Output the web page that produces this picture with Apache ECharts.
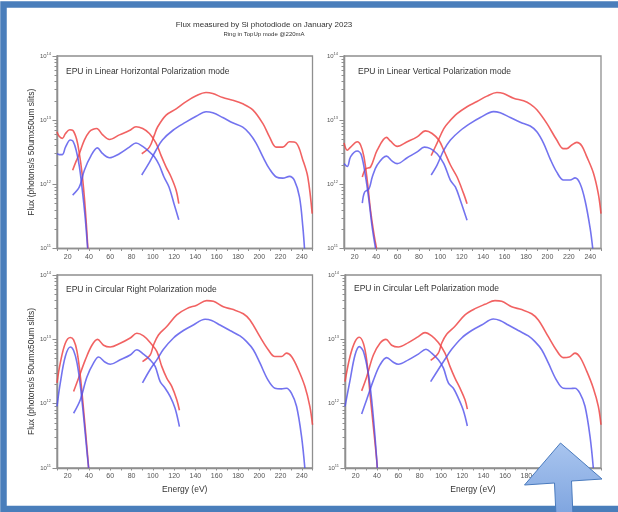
<!DOCTYPE html>
<html>
<head>
<meta charset="utf-8">
<title>Flux measured by Si photodiode on January 2023</title>
<script src="https://cdn.jsdelivr.net/npm/echarts@6/dist/echarts.min.js"></script>
<style>
  html, body { margin: 0; padding: 0; background: #fff; }
  #main { width: 618px; height: 512px; }
</style>
</head>
<body>
<div id="main"></div>
<script>
// text
var mainTitle = 'Flux measured by Si photodiode on January 2023';
var subTitle = 'Ring in TopUp mode @220mA';
var panelTitles = [
  'EPU in Linear Horizontal Polarization mode',
  'EPU in Linear Vertical Polarization mode',
  'EPU in Circular Right Polarization mode',
  'EPU in Circular Left Polarization mode'
];
var yName = 'Flux (photons/s 50umx50um slits)';
var xName = 'Energy (eV)';

// tick values
var xLabels = [20, 40, 60, 80, 100, 120, 140, 160, 180, 200, 220, 240];
var xTicks = [10, 20, 30, 40, 50, 60, 70, 80, 90, 100, 110, 120, 130, 140, 150, 160, 170, 180, 190, 200, 210, 220, 230, 240, 250];
var yDecades = [1e11, 1e12, 1e13, 1e14];

// [energy eV, flux photons/s] - red = upper curve, blue = lower curve
// Linear Horizontal
var lhRed1 = [[10, 6.6e12], [12, 5.6e12], [15, 5.2e12], [18, 6.2e12], [22, 7.1e12], [25, 6.9e12], [28.5, 5.0e12], [31, 3.0e12], [33.5, 1.5e12], [35.7, 6.3e11], [37.5, 2.5e11], [39, 1.0e11]];
var lhBlue1 = [[10, 3.0e12], [12, 2.9e12], [15, 2.9e12], [18, 3.8e12], [22.5, 4.9e12], [25, 4.7e12], [28, 3.4e12], [31, 1.9e12], [34, 7.5e11], [36.5, 3.0e11], [38.8, 1.0e11]];
var lhRed2 = [[24.7, 1.66e12], [28, 2.3e12], [31, 3.0e12], [35.7, 4.9e12], [40.4, 6.6e12], [44, 7.2e12], [47.3, 7.4e12], [52.9, 5.9e12], [59.2, 5.0e12], [68.6, 5.9e12], [78, 6.9e12], [84.2, 7.9e12], [90.5, 7.4e12], [96.8, 6.2e12], [103, 4.4e12], [107.8, 2.8e12], [112.5, 1.86e12], [117.2, 1.3e12], [121.9, 8.1e11], [124.4, 5.0e11]];
var lhBlue2 = [[24.7, 6.8e11], [31, 9.1e11], [35.7, 1.66e12], [42, 2.8e12], [47.9, 3.7e12], [52.9, 3.0e12], [59.2, 2.6e12], [68.6, 3.0e12], [78, 3.8e12], [84.2, 4.4e12], [90.5, 3.9e12], [96.8, 3.2e12], [101.5, 2.7e12], [106, 2.0e12], [110.5, 1.3e12], [115.2, 9.1e11], [119.9, 5.0e11], [124.4, 2.8e11]];
var lhRed3 = [[89.6, 3.0e12], [96.8, 3.8e12], [101.5, 5.9e12], [104.6, 7.9e12], [112.5, 1.2e13], [121.9, 1.5e13], [131.3, 1.95e13], [140.7, 2.4e13], [150, 2.7e13], [156.3, 2.6e13], [165.7, 2.25e13], [175.1, 2.05e13], [184.5, 1.8e13], [193.9, 1.45e13], [203.3, 8.9e12], [209.6, 5.5e12], [215.9, 3.8e12], [222.1, 3.8e12], [228.4, 4.6e12], [234.7, 4.4e12], [240.9, 2.4e12], [245.6, 1.3e12], [249.7, 3.5e11]];
var lhBlue3 = [[89.6, 1.4e12], [96.8, 2.2e12], [103, 3.4e12], [109, 4.9e12], [118.7, 6.9e12], [131, 9.3e12], [140.7, 1.15e13], [150, 1.35e13], [156.3, 1.3e13], [165.7, 1.1e13], [175, 9.1e12], [184.5, 7.8e12], [190.8, 6.2e12], [197, 4.4e12], [203.3, 2.7e12], [209.6, 1.74e12], [216, 1.3e12], [222.1, 1.25e12], [228.4, 1.33e12], [233, 1.15e12], [237.8, 6.3e11], [241, 2.1e11], [242.5, 1.0e11]];

// Linear Vertical
var lvRed1 = [[10, 4.4e12], [13.1, 3.4e12], [16.2, 3.8e12], [22.4, 4.6e12], [25.5, 4.1e12], [28.6, 2.7e12], [31.7, 1.15e12], [34.8, 3.9e11], [37.9, 1.7e11], [40.4, 1.0e11]];
var lvBlue1 = [[10, 2.1e12], [13.1, 1.9e12], [16.2, 2.7e12], [22.4, 3.3e12], [26.1, 2.9e12], [30.2, 1.3e12], [33.3, 5.6e11], [36.4, 2.1e11], [39.5, 1.0e11]];
var lvRed2 = [[27.1, 1.3e12], [30.2, 1.74e12], [34.8, 1.86e12], [41, 3.4e12], [49.7, 5.4e12], [53.5, 4.7e12], [59.7, 3.9e12], [69, 4.6e12], [78.3, 5.5e12], [86.1, 6.8e12], [92.3, 6.2e12], [98.5, 4.9e12], [103.2, 3.4e12], [109.4, 2.0e12], [115.6, 1.3e12], [121.8, 7.1e11], [124.9, 5.0e11]];
var lvBlue2 = [[27.1, 5.1e11], [29.3, 7.6e11], [33.3, 8.5e11], [36.4, 1.3e12], [41, 2.0e12], [49.7, 2.75e12], [55, 2.3e12], [59.7, 2.1e12], [69, 2.6e12], [78.3, 3.2e12], [85.1, 3.8e12], [90.7, 3.6e12], [96.9, 3.0e12], [103.2, 2.1e12], [109.4, 1.15e12], [114, 9.1e11], [118.7, 5.6e11], [124.9, 2.75e11]];
var lvRed3 = [[91.4, 2.8e12], [96.9, 4.4e12], [103.2, 7.4e12], [107.8, 9.3e12], [115.6, 1.26e13], [124.9, 1.62e13], [134.2, 1.95e13], [143.5, 2.37e13], [152.8, 2.7e13], [159, 2.6e13], [168.4, 2.2e13], [177.7, 2.0e13], [183.9, 1.78e13], [190.1, 1.45e13], [199.4, 8.9e12], [208.7, 4.9e12], [214.9, 3.6e12], [218, 3.6e12], [222.7, 4.1e12], [227.4, 4.5e12], [232, 4.0e12], [236.7, 2.7e12], [242.9, 1.5e12], [247.5, 7.1e11], [250, 3.5e11]];
var lvBlue3 = [[91.4, 1.4e12], [96.9, 2.0e12], [103.2, 3.4e12], [109.4, 4.9e12], [118.7, 6.9e12], [128, 8.9e12], [137.3, 1.1e13], [149.7, 1.36e13], [155.9, 1.3e13], [165.3, 1.1e13], [174.6, 9.3e12], [183.9, 8.1e12], [190.1, 6.6e12], [196.3, 4.4e12], [202.5, 2.5e12], [208.7, 1.55e12], [214.9, 1.17e12], [221.1, 1.17e12], [225.8, 1.26e12], [230.5, 1.02e12], [235.1, 5.6e11], [239.8, 2.1e11], [242.3, 1.0e11]];

// Circular Right
var crRed1 = [[10, 2.1e12], [13.1, 4.3e12], [17.8, 8.7e12], [22.5, 1.07e13], [25.6, 9.8e12], [28.8, 6.5e12], [32, 2.6e12], [35, 7.9e11], [38, 2.2e11], [39.7, 1.0e11]];
var crBlue1 = [[10, 9.1e11], [13.1, 2.1e12], [17.8, 5.4e12], [22.5, 7.6e12], [25.6, 6.7e12], [28.8, 4.3e12], [32, 1.86e12], [35, 6.3e11], [38, 1.9e11], [39.7, 1.0e11]];
var crRed2 = [[25.6, 1.55e12], [30.3, 2.5e12], [36.6, 4.8e12], [42.8, 8.1e12], [48.1, 1.0e13], [53.75, 8.1e12], [60, 7.6e12], [69.4, 8.7e12], [78.75, 1.05e13], [85, 1.24e13], [91.25, 1.13e13], [97.5, 8.9e12], [103.75, 6.5e12], [108.4, 3.8e12], [113.1, 2.5e12], [117.8, 1.86e12], [122.5, 1.15e12], [125, 7.9e11]];
var crBlue2 = [[25.6, 7.1e11], [31.9, 1.15e12], [38.1, 2.6e12], [44.4, 4.3e12], [49.1, 5.3e12], [55.3, 4.4e12], [60, 4.1e12], [69.4, 4.8e12], [78.75, 5.7e12], [85, 6.9e12], [91.25, 5.9e12], [97.5, 4.8e12], [102.2, 3.8e12], [106.9, 2.2e12], [111.6, 1.74e12], [116.25, 1.3e12], [120.9, 8.5e11], [125, 4.4e11]];
var crRed3 = [[90.3, 4.5e12], [97.5, 5.7e12], [100.6, 8.1e12], [105.3, 1.17e13], [113.1, 1.58e13], [122.5, 2.4e13], [131.9, 3.0e13], [141.25, 3.4e13], [150.6, 4.0e13], [156.9, 3.9e13], [166.25, 3.2e13], [175.6, 2.9e13], [185, 2.5e13], [191.25, 2.0e13], [200.6, 1.1e13], [208.4, 6.9e12], [214.7, 5.4e12], [220.9, 5.4e12], [225.6, 6.1e12], [230.3, 5.4e12], [236.6, 3.4e12], [242.8, 1.86e12], [247.5, 9.1e11], [250, 4.7e11]];
var crBlue3 = [[90.3, 2.1e12], [97.5, 3.4e12], [103.75, 4.8e12], [110, 7.0e12], [119.4, 1.05e13], [128.75, 1.37e13], [138.1, 1.67e13], [149.1, 2.05e13], [155.3, 1.96e13], [163.1, 1.67e13], [172.5, 1.37e13], [181.9, 1.13e13], [188.1, 9.2e12], [194.4, 6.9e12], [200.6, 4.3e12], [208.4, 2.3e12], [214.7, 1.74e12], [220.9, 1.7e12], [225.6, 1.74e12], [230.3, 1.45e12], [235, 9.1e11], [239.7, 3.1e11], [242.8, 1.0e11]];

// Circular Left
var clRed1 = [[10, 2.2e12], [14.7, 5.4e12], [19.4, 9.2e12], [23.4, 1.08e13], [27.2, 8.7e12], [30.3, 4.8e12], [33.4, 1.45e12], [36.6, 4.4e11], [39.7, 1.35e11], [40.3, 1.0e11]];
var clBlue1 = [[10, 9.1e11], [14.7, 2.3e12], [19.4, 5.7e12], [23.4, 7.7e12], [27.2, 6.5e12], [31.9, 2.9e12], [35, 1.15e12], [38.1, 3.1e11], [40.3, 1.0e11]];
var clRed2 = [[25.6, 1.58e12], [30.3, 2.6e12], [36.6, 5.7e12], [42.8, 8.7e12], [48.4, 1.0e13], [53.75, 8.1e12], [60, 7.6e12], [69.4, 8.9e12], [78.75, 1.1e13], [85, 1.27e13], [91.25, 1.13e13], [97.5, 8.9e12], [103.75, 6.1e12], [108.4, 3.8e12], [113.1, 2.5e12], [117.8, 1.74e12], [122.5, 1.15e12], [124.7, 8.2e11]];
var clBlue2 = [[25.6, 6.9e11], [30.3, 1.15e12], [36.6, 2.3e12], [42.8, 4.0e12], [49.1, 5.2e12], [55.3, 4.4e12], [60, 4.1e12], [69.4, 4.8e12], [78.75, 5.9e12], [85.9, 7.0e12], [91.25, 6.1e12], [97.5, 4.8e12], [102.2, 3.6e12], [106.9, 2.1e12], [111.6, 1.74e12], [116.25, 1.22e12], [120.9, 7.9e11], [124.7, 4.5e11]];
var clRed3 = [[90.3, 4.7e12], [97.5, 6.1e12], [100.6, 8.7e12], [105.3, 1.2e13], [113.1, 1.6e13], [122.5, 2.4e13], [131.9, 3.0e13], [141.25, 3.5e13], [150.6, 4.0e13], [156.9, 3.9e13], [166.25, 3.2e13], [175.6, 2.9e13], [185, 2.5e13], [191.25, 2.0e13], [200.6, 1.1e13], [208.4, 6.7e12], [214.7, 5.2e12], [220.3, 5.3e12], [225.6, 6.1e12], [230.3, 5.3e12], [236.6, 3.2e12], [242.8, 1.74e12], [247.5, 9.1e11], [250, 4.7e11]];
var clBlue3 = [[90.3, 2.2e12], [97.5, 3.4e12], [103.75, 4.9e12], [110, 7.0e12], [119.4, 1.05e13], [128.75, 1.37e13], [138.1, 1.67e13], [149.1, 2.07e13], [155.3, 1.96e13], [163.1, 1.67e13], [172.5, 1.37e13], [181.9, 1.13e13], [188.1, 9.2e12], [194.4, 6.9e12], [200.6, 4.3e12], [208.4, 2.3e12], [214.7, 1.74e12], [220.9, 1.72e12], [225.6, 1.74e12], [230.3, 1.45e12], [235, 9.1e11], [239.7, 3.1e11], [242.8, 1.0e11]];

var panelRed = [[lhRed1, lhRed2, lhRed3], [lvRed1, lvRed2, lvRed3], [crRed1, crRed2, crRed3], [clRed1, clRed2, clRed3]];
var panelBlue = [[lhBlue1, lhBlue2, lhBlue3], [lvBlue1, lvBlue2, lvBlue3], [crBlue1, crBlue2, crBlue3], [clBlue1, clBlue2, clBlue3]];

var font = 'Liberation Sans, Arial, sans-serif';
var axisColor = '#8f8f8f';
var redColor = 'rgba(238, 70, 70, 0.85)';
var blueColor = 'rgba(80, 80, 235, 0.8)';

// plot boxes (left, top, width, height)
var grids = [
  {left: 57, top: 56, width: 255.5, height: 192.5},
  {left: 344, top: 56, width: 257, height: 192.5},
  {left: 57, top: 275, width: 255.5, height: 193},
  {left: 345, top: 275, width: 256, height: 193}
];
var titlePos = [[66, 72], [358, 72], [66, 289.5], [354, 288.5]];

// minor log ticks, in exponent units for the overlay axis
var yMinor = [];
for (var d = 11; d < 14; d++) {
  for (var k = 2; k <= 9; k++) yMinor.push(d + Math.log10(k));
}

var xAxes = [], yAxes = [], series = [], graphics = [];

grids.forEach(function (g, i) {
  g.show = true;
  g.borderColor = axisColor;
  g.borderWidth = 1.3;
  g.containLabel = false;

  xAxes.push({
    type: 'value', gridIndex: i, min: 10, max: 250,
    name: i >= 2 ? xName : '', nameLocation: 'middle', nameGap: 17,
    nameTextStyle: {fontSize: 8.5, color: '#333', fontFamily: font},
    axisLine: {show: true, onZero: false, lineStyle: {color: axisColor, width: 1.3}},
    axisTick: {show: true, customValues: xTicks, length: 2.5, lineStyle: {color: axisColor}},
    axisLabel: {customValues: xLabels, fontSize: 7, color: '#555', margin: 5, fontFamily: font},
    splitLine: {show: false}
  });

  yAxes.push({
    type: 'log', logBase: 10, gridIndex: i, min: yDecades[0], max: yDecades[3], position: 'left',
    name: i % 2 === 0 ? yName : '', nameLocation: 'middle', nameGap: 21,
    nameTextStyle: {fontSize: 8.5, color: '#333', fontFamily: font},
    axisLine: {show: true, lineStyle: {color: axisColor, width: 1.3}},
    axisTick: {show: true, length: 4.5, lineStyle: {color: axisColor}},
    axisLabel: {
      margin: 6,
      formatter: function (v) {
        return '{b|10}{s|' + Math.round(Math.log10(v)) + '}';
      },
      rich: {
        b: {fontSize: 6, color: '#555', fontFamily: font},
        s: {fontSize: 4, color: '#555', fontFamily: font, verticalAlign: 'bottom', padding: [0, 0, 5, 0]}
      }
    },
    splitLine: {show: false}
  });
  yAxes.push({
    type: 'value', gridIndex: i, min: 11, max: 14, position: 'left', offset: 0,
    axisLine: {show: true, lineStyle: {color: axisColor, width: 1.3}},
    axisTick: {show: true, customValues: yMinor, length: 2.5, lineStyle: {color: axisColor}},
    axisLabel: {show: false},
    splitLine: {show: false}
  });

  [[panelRed[i], redColor], [panelBlue[i], blueColor]].forEach(function (pair) {
    pair[0].forEach(function (seg) {
      series.push({
        type: 'line', xAxisIndex: i, yAxisIndex: i * 2,
        data: seg, showSymbol: false, smooth: 0.35, clip: true,
        lineStyle: {color: pair[1], width: 1.6},
        silent: true
      });
    });
  });

  graphics.push({
    type: 'text', x: titlePos[i][0], y: titlePos[i][1],
    style: {text: panelTitles[i], fill: '#333', fontSize: 8.5, fontFamily: font, textVerticalAlign: 'middle'}
  });
});

// slide frame, headings and the overlaid arrow
graphics.push(
  {type: 'text', x: 264, y: 25, style: {text: mainTitle, fill: '#333', fontSize: 8, fontFamily: font, textAlign: 'center', textVerticalAlign: 'middle'}},
  {type: 'text', x: 264, y: 34, style: {text: subTitle, fill: '#333', fontSize: 6, fontFamily: font, textAlign: 'center', textVerticalAlign: 'middle'}},
  {type: 'rect', z: 50, shape: {x: 3.5, y: 4.5, width: 700, height: 504.5}, style: {fill: 'none', stroke: '#4a7ebb', lineWidth: 6.5}},
  {
    type: 'polygon', z: 60,
    shape: {points: [[560.5, 443], [602, 479], [571.5, 481], [573, 516], [556, 516], [554.5, 483], [524.5, 485]]},
    style: {
      fill: new echarts.graphic.LinearGradient(0, 0, 0, 1, [{offset: 0, color: '#a9c5ef'}, {offset: 1, color: '#7ea4df'}]),
      stroke: '#4a7bbe', lineWidth: 1
    }
  }
);

var chart = echarts.init(document.getElementById('main'));
chart.setOption({
  animation: false,
  backgroundColor: '#fff',
  grid: grids,
  xAxis: xAxes,
  yAxis: yAxes,
  series: series,
  graphic: graphics
});
</script>
</body>
</html>
